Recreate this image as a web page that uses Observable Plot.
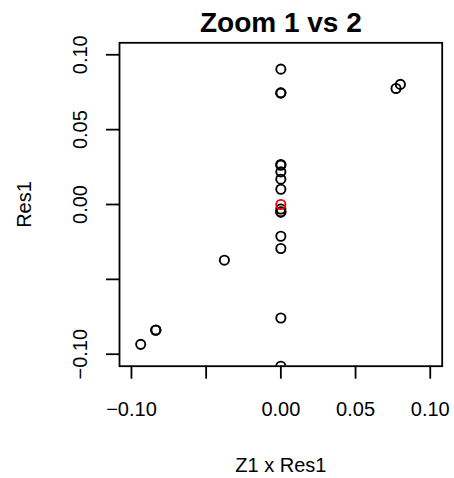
<!DOCTYPE html>
<html>
<head>
<meta charset="utf-8">
<script src="https://cdn.jsdelivr.net/npm/d3@7"></script>
<script src="https://cdn.jsdelivr.net/npm/@observablehq/plot@0.6"></script>
<style>
  html, body { margin: 0; padding: 0; background: #fff; }
  svg { display: block; }
</style>
</head>
<body>
<div id="chart"></div>
<script>
// Data
const xValues = [0, 0, 0, 0.0771, 0.0800, 0, 0, 0, 0, 0, 0, 0, 0, 0, 0, -0.0378, 0, -0.0838, -0.0836, -0.0938, 0];
const yValues = [0.0904, 0.0746, 0.0744, 0.0775, 0.0802, 0.0267, 0.0262, 0.0218, 0.0169, 0.0102, -0.0030, -0.0051, -0.0049, -0.0212, -0.0294, -0.0372, -0.0758, -0.0840, -0.0838, -0.0934, -0.1080];
const highlightX = [0];
const highlightY = [0];

const xTicks = [-0.10, -0.05, 0.00, 0.05, 0.10];
const xTickLabels = ["\u22120.10", "", "0.00", "0.05", "0.10"];
const yTicks = [-0.10, -0.05, 0.00, 0.05, 0.10];
const yTickLabels = ["\u22120.10", "", "0.00", "0.05", "0.10"];

const titleText = "Zoom 1 vs 2";
const xTitle = "Z1 x Res1";
const yTitle = "Res1";

const points = xValues.map((x, i) => ({x, y: yValues[i]}));
const highlight = highlightX.map((x, i) => ({x, y: highlightY[i]}));

const font = "Liberation Sans, Arial, Helvetica, sans-serif";

const chart = Plot.plot({
  width: 454,
  height: 478,
  marginLeft: 119,
  marginRight: 12.3,
  marginTop: 42.3,
  marginBottom: 112.3,
  style: {fontFamily: font, background: "white", color: "black"},
  x: {domain: [-0.108, 0.108]},
  y: {domain: [-0.108, 0.108]},
  marks: [
    Plot.dot(points, {x: "x", y: "y", r: 4.6, stroke: "black", strokeWidth: 1.9, fill: "none", clip: true}),
    Plot.dot(highlight, {x: "x", y: "y", r: 4.6, stroke: "#ff0000", strokeWidth: 1.9, fill: "none", clip: true}),
    Plot.frame({stroke: "black", strokeWidth: 1.8}),
    Plot.axisX({
      ticks: xTicks,
      tickFormat: (d) => xTickLabels[xTicks.indexOf(d)],
      tickSize: 13,
      tickPadding: 23,
      strokeWidth: 1.8,
      fontSize: 20,
      fill: "black",
      label: null
    }),
    Plot.axisY({
      ticks: yTicks,
      tickFormat: (d) => yTickLabels[yTicks.indexOf(d)],
      tickSize: 13,
      tickPadding: 20,
      tickRotate: -90,
      strokeWidth: 1.8,
      fontSize: 20,
      fill: "black",
      label: null
    }),
    Plot.text([titleText], {text: (d) => d, frameAnchor: "top", textAnchor: "middle", lineAnchor: "bottom", dy: -10.6, fontSize: 28, fontWeight: "bold", fill: "black"}),
    Plot.text([xTitle], {text: (d) => d, frameAnchor: "bottom", textAnchor: "middle", lineAnchor: "bottom", dy: 106, fontSize: 20, fill: "black"}),
    Plot.text([yTitle], {text: (d) => d, frameAnchor: "left", textAnchor: "middle", lineAnchor: "bottom", rotate: -90, dx: -88.3, fontSize: 20, fill: "black"})
  ]
});

document.getElementById("chart").appendChild(chart);
</script>
</body>
</html>
